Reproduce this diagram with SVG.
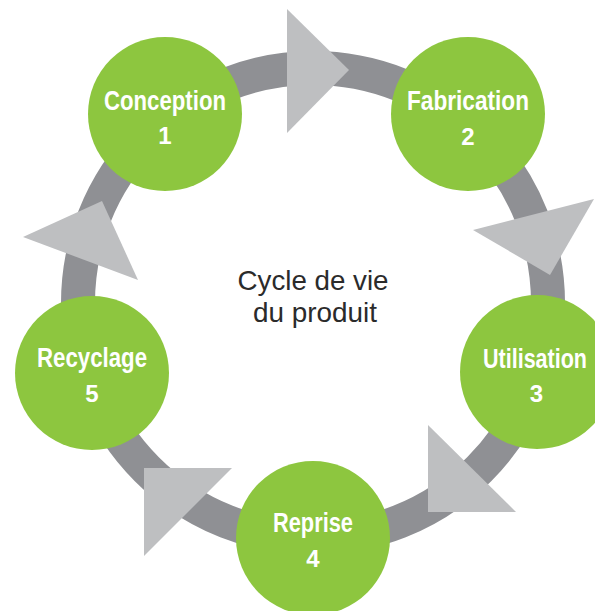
<svg xmlns="http://www.w3.org/2000/svg" width="595" height="611" viewBox="0 0 595 611">
<style>
.ring{fill:none;stroke:#8f9094;stroke-width:34}
.arrow{fill:#bebfc1}
.node circle{fill:#8dc63f}
.lbl{font-family:"Liberation Sans",Arial,sans-serif;font-weight:bold;fill:#ffffff;text-anchor:middle;font-size:27px}
.num{font-family:"Liberation Sans",Arial,sans-serif;font-weight:bold;fill:#ffffff;text-anchor:middle;font-size:24px}
.title{font-family:"Liberation Sans",Arial,sans-serif;fill:#2b2b2b;text-anchor:middle;font-size:28px}
</style>
<rect width="595" height="611" fill="#ffffff"/>
<g id="connectors">
<circle class="ring" cx="313" cy="303" r="235"/>
<polygon class="arrow" points="287,9 349,70 287,133"/>
<polygon class="arrow" points="473,230 594,199 550,275"/>
<polygon class="arrow" points="428,425 516,512 428,512"/>
<polygon class="arrow" points="232,468 144,468 144,556"/>
<polygon class="arrow" points="23,237 102,201 138,280"/>
</g>
<g id="title">
<text class="title" x="313" y="290" textLength="151" lengthAdjust="spacingAndGlyphs">Cycle de vie</text>
<text class="title" x="315" y="322" textLength="124" lengthAdjust="spacingAndGlyphs">du produit</text>
</g>
<g id="node-conception" class="node">
<circle cx="165" cy="114" r="77"/>
<text class="lbl" x="165" y="110" textLength="122" lengthAdjust="spacingAndGlyphs">Conception</text>
<text class="num" x="165" y="144">1</text>
</g>
<g id="node-fabrication" class="node">
<circle cx="468" cy="114" r="77"/>
<text class="lbl" x="468" y="110" textLength="122" lengthAdjust="spacingAndGlyphs">Fabrication</text>
<text class="num" x="468" y="145">2</text>
</g>
<g id="node-utilisation" class="node">
<circle cx="537" cy="372" r="77"/>
<text class="lbl" x="535" y="368" textLength="104" lengthAdjust="spacingAndGlyphs">Utilisation</text>
<text class="num" x="536.5" y="402">3</text>
</g>
<g id="node-reprise" class="node">
<circle cx="313" cy="538" r="77"/>
<text class="lbl" x="313" y="532" textLength="80" lengthAdjust="spacingAndGlyphs">Reprise</text>
<text class="num" x="313" y="567">4</text>
</g>
<g id="node-recyclage" class="node">
<circle cx="92" cy="373" r="77"/>
<text class="lbl" x="92" y="367" textLength="110" lengthAdjust="spacingAndGlyphs">Recyclage</text>
<text class="num" x="92" y="402">5</text>
</g>
</svg>
